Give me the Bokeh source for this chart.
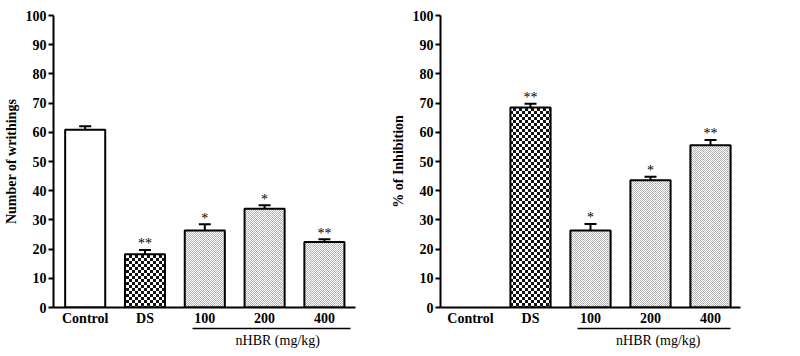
import base64, struct, zlib
from bokeh.plotting import figure
from bokeh.layouts import row
from bokeh.models import (ColumnDataSource, Range1d, LinearAxis, FixedTicker,
                          Whisker, TeeHead, ImageURLTexture, CDSView, BooleanFilter)
from bokeh.core.properties import value
from bokeh.embed import file_html
from bokeh.resources import INLINE

# ---------------- data ----------------
categories = ["Control", "DS", "100", "200", "400"]
group_label = "nHBR (mg/kg)"
writhings = [60.9, 18.2, 26.4, 33.8, 22.4]
writhings_err = [1.2, 1.5, 2.1, 1.2, 1.0]
writhings_sig = ["", "**", "*", "*", "**"]
inhibition = [0.0, 68.5, 26.4, 43.6, 55.6]
inhibition_err = [0.0, 1.3, 2.2, 1.2, 1.8]
inhibition_sig = ["", "**", "*", "*", "**"]
y_ticks = list(range(0, 101, 10))

FONT = "Liberation Serif"


def png_uri(rows):
    h = len(rows)
    w = len(rows[0])
    raw = b"".join(b"\x00" + bytes(r) for r in rows)

    def chunk(t, d):
        return struct.pack(">I", len(d)) + t + d + struct.pack(">I", zlib.crc32(t + d) & 0xffffffff)

    ihdr = struct.pack(">IIBBBBB", w, h, 8, 0, 0, 0, 0)
    png = b"\x89PNG\r\n\x1a\n" + chunk(b"IHDR", ihdr) + chunk(b"IDAT", zlib.compress(raw)) + chunk(b"IEND", b"")
    return "data:image/png;base64," + base64.b64encode(png).decode()


B, W = 20, 255
checker_tile = [[B] * 3 + [W] * 3] * 3 + [[W] * 3 + [B] * 3] * 3
stipple_tile = [
    [252, 185, 252, 185, 252, 185],
    [185, 252, 150, 252, 185, 252],
    [252, 185, 252, 185, 252, 185],
    [185, 252, 185, 252, 150, 252],
]
textures = {
    "checker": ImageURLTexture(url=png_uri(checker_tile), repetition="repeat"),
    "stipple": ImageURLTexture(url=png_uri(stipple_tile), repetition="repeat"),
}


def make_chart(vals, errs, sigs, ylabel, width, x_start, x_end, grp_lo, grp_hi, grp_mid,
               border_right, border_bottom):
    n = len(categories)
    xs = list(range(n))
    p = figure(width=width, height=356, output_backend="svg", toolbar_location=None,
               x_range=Range1d(x_start, x_end), y_range=Range1d(0, 100),
               min_border_left=53, min_border_right=border_right,
               min_border_top=15, min_border_bottom=border_bottom)
    p.outline_line_color = None
    p.grid.visible = False
    p.background_fill_color = "white"
    p.border_fill_color = "white"

    kinds = ["white", "checker", "stipple", "stipple", "stipple"]
    src = ColumnDataSource(dict(x=xs, top=vals, upper=[v + e for v, e in zip(vals, errs)],
                                sig=sigs))
    for kind, fill in (("white", "white"), ("checker", "#888888"), ("stipple", "#d6d6d6")):
        mask = [k == kind and v > 0 for k, v in zip(kinds, vals)]
        view = CDSView(filter=BooleanFilter(mask))
        kw = {}
        if kind != "white":
            kw = dict(hatch_pattern=value(kind), hatch_extra=textures, hatch_color="black")
        p.vbar(x="x", top="top", bottom=0, width=0.67, source=src, view=view,
               fill_color=fill, line_color="black", line_width=2, **kw)

    has = [e > 0 for e in errs]
    wsrc = ColumnDataSource(dict(x=[x for x, h in zip(xs, has) if h],
                                 lower=[v for v, h in zip(vals, has) if h],
                                 upper=[v + e for v, e, h in zip(vals, errs, has) if h]))
    wh = Whisker(base="x", lower="lower", upper="upper", source=wsrc,
                 dimension="height", line_color="black", line_width=2,
                 lower_head=None, upper_head=TeeHead(size=12, line_color="black", line_width=2))
    p.add_layout(wh)

    p.text(x="x", y="upper", text="sig", source=src, text_align="center",
           text_baseline="alphabetic", y_offset=-6,
           text_font=value(FONT), text_font_size="14px", text_color="black")

    # y axis
    ya = p.yaxis[0]
    ya.ticker = FixedTicker(ticks=y_ticks)
    ya.minor_tick_line_color = None
    ya.major_tick_out = 5
    ya.major_tick_in = 0
    ya.major_tick_line_width = 2
    ya.axis_line_width = 2
    ya.major_label_standoff = 2
    ya.major_label_text_font = FONT
    ya.major_label_text_font_style = "bold"
    ya.major_label_text_font_size = "14px"
    ya.major_label_text_color = "black"
    ya.axis_label = ylabel
    ya.axis_label_text_font = FONT
    ya.axis_label_text_font_style = "bold"
    ya.axis_label_text_font_size = "14px"
    ya.axis_label_text_color = "black"
    ya.axis_label_standoff = 4

    # x axis
    xa = p.xaxis[0]
    xa.ticker = FixedTicker(ticks=xs)
    xa.major_label_overrides = {i: c for i, c in enumerate(categories)}
    xa.minor_tick_line_color = None
    xa.major_tick_out = 0
    xa.major_tick_in = 0
    xa.axis_line_width = 2
    xa.major_label_standoff = 3
    xa.major_label_text_font = FONT
    xa.major_label_text_font_style = "bold"
    xa.major_label_text_font_size = "14px"
    xa.major_label_text_color = "black"

    # group line + label
    ga = LinearAxis(ticker=FixedTicker(ticks=[grp_mid]),
                    major_label_overrides={grp_mid: group_label},
                    bounds=(grp_lo, grp_hi))
    ga.minor_tick_line_color = None
    ga.major_tick_out = 0
    ga.major_tick_in = 0
    ga.axis_line_width = 1.5
    ga.major_label_standoff = 4
    ga.major_label_text_font = FONT
    ga.major_label_text_font_style = "normal"
    ga.major_label_text_font_size = "14px"
    ga.major_label_text_color = "black"
    p.add_layout(ga, "below")
    return p


p1 = make_chart(writhings, writhings_err, writhings_sig, "Number of writhings",
                387, -0.53, 4.52, 1.795, 4.43, 3.22, 32, 49)
p2 = make_chart(inhibition, inhibition_err, inhibition_sig, "% of Inhibition",
                413, -0.5, 4.5, 1.78, 4.33, 3.13, 60, 47)

layout = row(p1, p2)
open("out.html", "w").write(file_html(layout, INLINE))
